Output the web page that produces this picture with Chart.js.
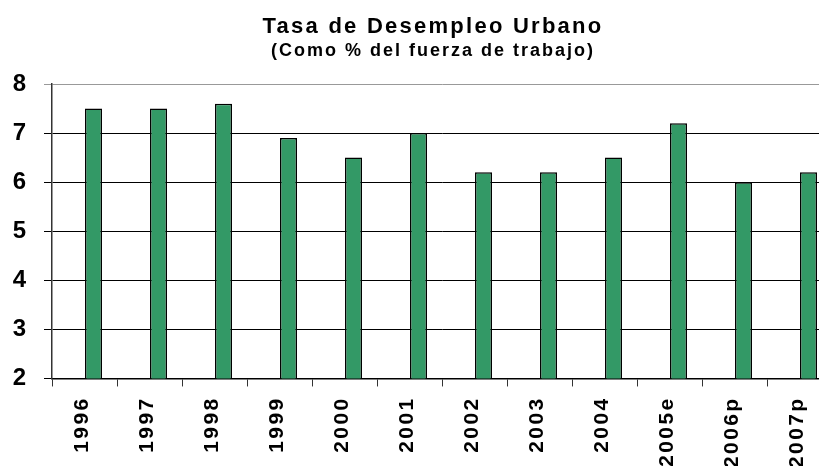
<!DOCTYPE html>
<html>
<head>
<meta charset="utf-8">
<script src="https://cdn.jsdelivr.net/npm/chart.js@4.4.1/dist/chart.umd.min.js"></script>
<style>
  html, body { margin: 0; padding: 0; background: #fff; overflow: hidden; }
  #wrap { width: 832px; height: 467px; }
</style>
</head>
<body>
<div id="wrap"><canvas id="desempleo"></canvas></div>
<script>
let years = ['1996', '1997', '1998', '1999', '2000', '2001', '2002', '2003', '2004', '2005e', '2006p', '2007p'];
let tasa = [7.5, 7.5, 7.6, 6.9, 6.5, 7.0, 6.2, 6.2, 6.5, 7.2, 6.0, 6.2];
let yTicks = [2, 3, 4, 5, 6, 7, 8];
let titleText = 'Tasa de Desempleo Urbano';
let subtitleText = '(Como % del fuerza de trabajo)';

let font = '"Liberation Sans", Arial, sans-serif';

// the original text is letter-spaced, chart.js has no option for it
const spacedText = {
    id: 'spacedText',
    beforeDraw(chart) {
        if (chart.$spaced) return;
        chart.$spaced = true;
        let c = chart.ctx;
        let wrap = (obj, fn, ls, dx) => {
            let orig = obj[fn];
            obj[fn] = function (...args) {
                c.save();
                c.letterSpacing = ls;
                c.translate(dx, 0);
                orig.apply(this, args);
                c.restore();
            };
        };
        chart.boxes.forEach(b => {
            if (b === chart.titleBlock) wrap(b, 'draw', '2.25px', 17);
            else if (b.options && b.options.text === subtitleText) wrap(b, 'draw', '2px', 17);
            else if (b.id === 'x') wrap(b, 'drawLabels', '2.4px', -2);
        });
    }
};

let ctx = document.querySelector('#desempleo');
var chart = new Chart(ctx, {
    type: 'bar',
    data: {
        labels: years,
        datasets: [{
            // empty first series, keeps the bars on the right half of each slot like excel
            label: '',
            data: []
        }, {
            label: titleText,
            data: tasa,
            backgroundColor: '#339966',
            borderColor: '#000',
            borderWidth: 1.5
        }]
    },
    options: {
        responsive: true,
        maintainAspectRatio: false,
        animation: false,
        categoryPercentage: 0.554,
        barPercentage: 0.944,
        layout: { padding: { left: 0, right: 0, top: 6, bottom: 1 } },
        plugins: {
            legend: { display: false },
            tooltip: { enabled: false },
            title: {
                display: true,
                text: titleText,
                color: '#000',
                font: { family: font, size: 22, weight: 'bold' },
                padding: { top: 8, bottom: 0 }
            },
            subtitle: {
                display: true,
                text: subtitleText,
                color: '#000',
                font: { family: font, size: 18, weight: 'bold' },
                padding: { top: 0, bottom: 22 }
            }
        },
        scales: {
            x: {
                afterFit: s => {
                    s.paddingLeft = 0;
                    s.paddingRight = 0;
                },
                grid: {
                    offset: true,
                    drawOnChartArea: false,
                    tickLength: 8,
                    color: '#333'
                },
                border: { color: '#000', width: 1.5 },
                ticks: {
                    color: '#000',
                    maxRotation: 90,
                    minRotation: 90,
                    padding: 10,
                    font: { family: font, size: 21, weight: 'bold' }
                }
            },
            y: {
                min: 2,
                max: 8,
                afterBuildTicks: axis => {
                    axis.ticks = yTicks.map(v => ({ value: v }));
                },
                afterFit: s => {
                    s.width = 52;
                },
                grid: {
                    color: c => (c.tick && c.tick.value === 8) ? '#999' : '#000',
                    lineWidth: 1,
                    tickLength: 8
                },
                border: { color: '#333', width: 1.5 },
                ticks: {
                    color: '#000',
                    padding: 18,
                    font: { family: font, size: 24, weight: 'bold' }
                }
            }
        }
    },
    plugins: [spacedText]
});
</script>
</body>
</html>
